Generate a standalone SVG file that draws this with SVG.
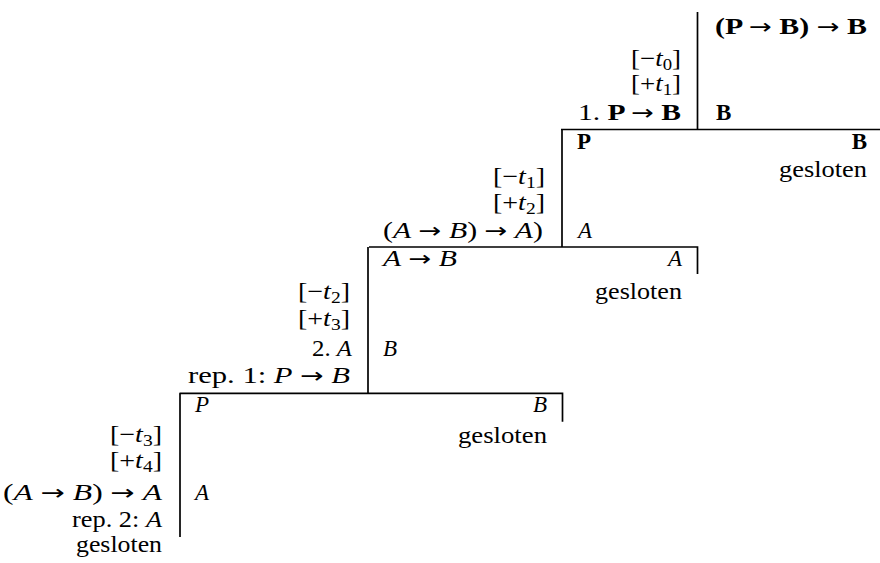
<svg xmlns="http://www.w3.org/2000/svg" width="880" height="563" viewBox="0 0 880 563">
<style>
text{font-family:"Liberation Serif","Times New Roman",serif;font-size:23px;fill:#000}
.i{font-style:italic}
.b{font-weight:bold}
.s{font-size:16px;font-style:normal}
.a{font-family:"DejaVu Sans",sans-serif;font-weight:normal;font-style:normal;font-size:21px}
.e{text-anchor:end}
.ln{stroke:#000;stroke-width:1.7;fill:none}
</style>
<rect width="880" height="563" fill="#fff"/>
<g id="connectors" class="ln">
<path d="M697.5 12V129.5"/>
<path d="M561 129.5H880"/>
<path d="M562 129.5V247"/>
<path d="M369 247H697.5V274"/>
<path d="M368 247V393.3"/>
<path d="M179.5 393.3H562.5V421.7"/>
<path d="M180 393.3V537"/>
</g>
<g id="block1">
<text x="715" y="34" class="b" textLength="152" lengthAdjust="spacingAndGlyphs">(P <tspan class="a">→</tspan> B) <tspan class="a">→</tspan> B</text>
<text x="681" y="66" class="e" textLength="50" lengthAdjust="spacingAndGlyphs">[−<tspan class="i">t</tspan><tspan class="s" dy="4">0</tspan><tspan dy="-4">]</tspan></text>
<text x="681" y="91" class="e" textLength="50" lengthAdjust="spacingAndGlyphs">[+<tspan class="i">t</tspan><tspan class="s" dy="4">1</tspan><tspan dy="-4">]</tspan></text>
<text x="681" y="120" class="e" textLength="103" lengthAdjust="spacingAndGlyphs">1. <tspan class="b">P <tspan class="a">→</tspan> B</tspan></text>
<text x="716" y="120" class="b">B</text>
</g>
<g id="block2">
<text x="577" y="149" class="b">P</text>
<text x="867" y="149" class="b e">B</text>
<text x="867" y="177" class="e" textLength="88" lengthAdjust="spacingAndGlyphs">gesloten</text>
<text x="545" y="184" class="e" textLength="52" lengthAdjust="spacingAndGlyphs">[−<tspan class="i">t</tspan><tspan class="s" dy="4">1</tspan><tspan dy="-4">]</tspan></text>
<text x="545" y="210" class="e" textLength="52" lengthAdjust="spacingAndGlyphs">[+<tspan class="i">t</tspan><tspan class="s" dy="4">2</tspan><tspan dy="-4">]</tspan></text>
<text x="543" y="238" class="e" textLength="160" lengthAdjust="spacingAndGlyphs">(<tspan class="i">A</tspan> <tspan class="a">→</tspan> <tspan class="i">B</tspan>) <tspan class="a">→</tspan> <tspan class="i">A</tspan>)</text>
<text x="578" y="238" class="i">A</text>
</g>
<g id="block3">
<text x="383" y="266" textLength="74" lengthAdjust="spacingAndGlyphs"><tspan class="i">A</tspan> <tspan class="a">→</tspan> <tspan class="i">B</tspan></text>
<text x="682" y="266" class="i e">A</text>
<text x="682" y="299" class="e" textLength="87" lengthAdjust="spacingAndGlyphs">gesloten</text>
<text x="350" y="299" class="e" textLength="52" lengthAdjust="spacingAndGlyphs">[−<tspan class="i">t</tspan><tspan class="s" dy="4">2</tspan><tspan dy="-4">]</tspan></text>
<text x="350" y="326" class="e" textLength="52" lengthAdjust="spacingAndGlyphs">[+<tspan class="i">t</tspan><tspan class="s" dy="4">3</tspan><tspan dy="-4">]</tspan></text>
<text x="352" y="356" class="e" textLength="40" lengthAdjust="spacingAndGlyphs">2. <tspan class="i">A</tspan></text>
<text x="383" y="356" class="i">B</text>
<text x="350" y="383" class="e" textLength="162" lengthAdjust="spacingAndGlyphs">rep. 1: <tspan class="i">P</tspan> <tspan class="a">→</tspan> <tspan class="i">B</tspan></text>
</g>
<g id="block4">
<text x="195" y="412" class="i">P</text>
<text x="547" y="412" class="i e">B</text>
<text x="547" y="443" class="e" textLength="89" lengthAdjust="spacingAndGlyphs">gesloten</text>
<text x="162" y="442" class="e" textLength="52" lengthAdjust="spacingAndGlyphs">[−<tspan class="i">t</tspan><tspan class="s" dy="4">3</tspan><tspan dy="-4">]</tspan></text>
<text x="162" y="468" class="e" textLength="52" lengthAdjust="spacingAndGlyphs">[+<tspan class="i">t</tspan><tspan class="s" dy="4">4</tspan><tspan dy="-4">]</tspan></text>
<text x="162" y="500" class="e" textLength="159" lengthAdjust="spacingAndGlyphs">(<tspan class="i">A</tspan> <tspan class="a">→</tspan> <tspan class="i">B</tspan>) <tspan class="a">→</tspan> <tspan class="i">A</tspan></text>
<text x="195" y="500" class="i">A</text>
<text x="162" y="527" class="e" textLength="90" lengthAdjust="spacingAndGlyphs">rep. 2: <tspan class="i">A</tspan></text>
<text x="162" y="552" class="e" textLength="86" lengthAdjust="spacingAndGlyphs">gesloten</text>
</g>
</svg>
